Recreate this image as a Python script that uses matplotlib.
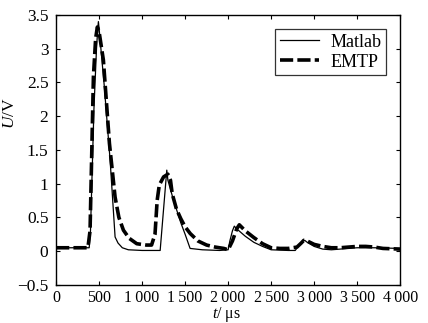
import matplotlib
matplotlib.use("Agg")
import matplotlib.pyplot as plt
from matplotlib.ticker import FixedLocator

plt.rcParams['font.family'] = ['Liberation Serif', 'DejaVu Serif']
plt.rcParams['mathtext.fontset'] = 'custom'
plt.rcParams['mathtext.rm'] = 'Liberation Serif'
plt.rcParams['mathtext.it'] = 'Liberation Serif:italic'
plt.rcParams['lines.scale_dashes'] = False

# Matlab (thin solid)
t_matlab = [0, 385, 400, 440, 470, 485, 492, 500, 560, 628, 686, 720, 770, 840,
            1000, 1210, 1287, 1300, 1364, 1450, 1500, 1558, 1700, 1900, 2000, 2020,
            2050, 2072, 2100, 2200, 2300, 2400, 2500, 2700, 2780, 2820, 2860, 2890,
            2920, 3000, 3100, 3200, 3300, 3500, 3700, 4000]
u_matlab = [0.05, 0.05, 0.3, 2.1, 3.0, 3.3, 3.4, 3.3, 2.45, 1.35, 0.21, 0.12, 0.05, 0.02,
            0.01, 0.01, 1.2, 1.05, 0.76, 0.42, 0.25, 0.04, 0.02, 0.01, 0.02, 0.15,
            0.3, 0.37, 0.33, 0.22, 0.13, 0.07, 0.02, 0.01, 0.01, 0.08, 0.14, 0.16,
            0.13, 0.07, 0.03, 0.02, 0.03, 0.05, 0.05, 0.04]

# EMTP (thick dashed)
t_emtp = [0, 370, 395, 434, 460, 480, 500, 550, 620, 686, 730, 783, 850, 938, 1050,
          1110, 1150, 1175, 1200, 1250, 1300, 1330, 1350, 1400, 1450, 1500, 1560,
          1650, 1750, 1850, 1950, 2000, 2050, 2100, 2130, 2200, 2300, 2400, 2500,
          2600, 2700, 2800, 2850, 2880, 2920, 3000, 3100, 3200, 3300, 3400, 3500,
          3600, 3700, 3800, 4000]
u_emtp = [0.05, 0.05, 0.3, 2.58, 3.15, 3.32, 3.25, 2.83, 1.6, 0.8, 0.5, 0.31, 0.19, 0.11, 0.09,
          0.09, 0.25, 0.75, 0.98, 1.1, 1.14, 1.05, 0.85, 0.62, 0.48, 0.36, 0.26,
          0.15, 0.09, 0.06, 0.04, 0.02, 0.15, 0.33, 0.39, 0.3, 0.2, 0.11, 0.05,
          0.04, 0.04, 0.06, 0.12, 0.16, 0.15, 0.1, 0.07, 0.05, 0.05, 0.06, 0.07,
          0.07, 0.06, 0.04, 0.03]

x_ticks = [0, 500, 1000, 1500, 2000, 2500, 3000, 3500, 4000]
x_labels = ['0', '500', '1\u2009000', '1\u2009500', '2\u2009000', '2\u2009500',
            '3\u2009000', '3\u2009500', '4\u2009000']
y_ticks = [-0.5, 0, 0.5, 1, 1.5, 2, 2.5, 3, 3.5]
y_labels = ['\u22120.5', '0', '0.5', '1', '1.5', '2', '2.5', '3', '3.5']

fig = plt.figure(figsize=(4.28, 3.23), dpi=100)
ax = fig.add_axes([0.131, 0.118, 0.804, 0.836])

ax.plot(t_matlab, u_matlab, color='black', lw=0.9, label='Matlab')
ax.plot(t_emtp, u_emtp, color='black', lw=2.6, dashes=(9.5, 3.0), label='EMTP')

ax.set_xlim(0, 4000)
ax.set_ylim(-0.5, 3.5)
ax.xaxis.set_major_locator(FixedLocator(x_ticks))
ax.set_xticklabels(x_labels)
ax.yaxis.set_major_locator(FixedLocator(y_ticks))
ax.set_yticklabels(y_labels)
ax.tick_params(direction='in', top=True, right=True, length=3, width=0.8)
ax.tick_params(axis='x', labelsize=11.5, pad=4)
ax.tick_params(axis='y', labelsize=12.5, pad=5.5)
for s in ax.spines.values():
    s.set_linewidth(1.0)

ax.set_xlabel('$t$/ \u03bcs', fontsize=11.5)
ax.xaxis.set_label_coords(0.494, -0.074)
ax.set_ylabel('$U$/V', fontsize=12.5)
ax.yaxis.set_label_coords(-0.112, 0.637)

leg = ax.legend(loc='upper right', fontsize=13, frameon=True, fancybox=False,
                handlelength=2.2, borderaxespad=0.8, labelspacing=0.15,
                borderpad=0.25, handletextpad=0.6)
leg.get_frame().set_edgecolor('black')
leg.get_frame().set_linewidth(0.9)

fig.savefig('out.png', dpi=100)
